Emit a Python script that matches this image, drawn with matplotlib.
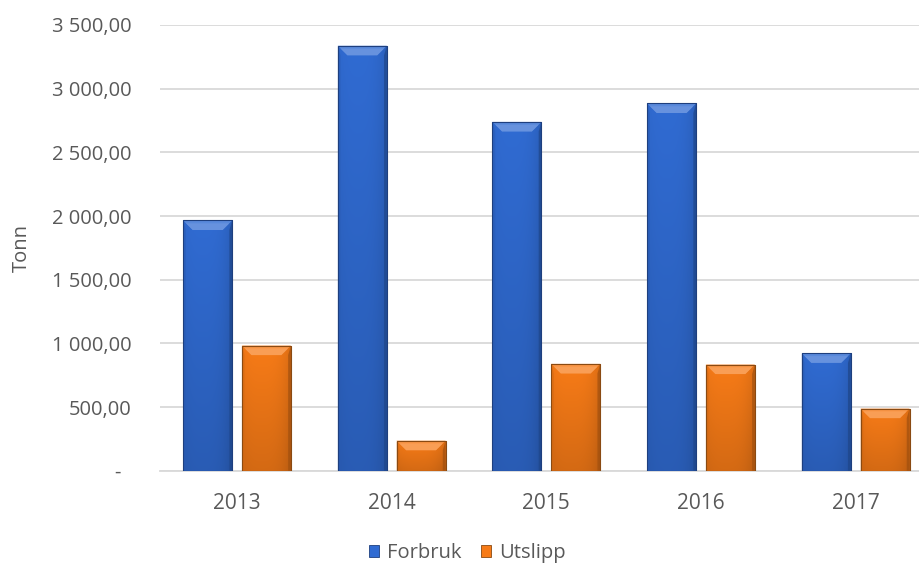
import matplotlib
matplotlib.use("Agg")
import matplotlib.pyplot as plt
import numpy as np
from matplotlib.patches import Polygon
from matplotlib.colors import to_rgb
from matplotlib.ticker import FuncFormatter, MultipleLocator

years = ["2013", "2014", "2015", "2016", "2017"]
forbruk = [1965, 3337, 2739, 2884, 922]
utslipp = [983, 236, 839, 834, 488]
series_names = ["Forbruk", "Utslipp"]
y_label = "Tonn"

plt.rcParams['font.family'] = ['Open Sans', 'DejaVu Sans']
TXT = "#595959"

fig = plt.figure(figsize=(9.2, 5.64), dpi=100)
ax = fig.add_axes([0.1736, 0.1654, 0.8405, 0.7903])

x = np.arange(len(years))
w = 0.317
off = 0.19
blue = "#306BD2"
orange = "#F77B17"
b1 = ax.bar(x - off, forbruk, w, color=blue, edgecolor="#1E3F7E", linewidth=0.6, zorder=3, label=series_names[0])
b2 = ax.bar(x + off, utslipp, w, color=orange, edgecolor="#8A4A12", linewidth=0.6, zorder=3, label=series_names[1])

ax.set_ylim(0, 3500)
ax.set_xlim(-0.5, len(years) - 0.5)


def shade(c, f):
    c = np.array(to_rgb(c))
    if f >= 0:
        return c + (1 - c) * f
    return c * (1 + f)


def decorate(bars, base):
    for p in bars:
        x0, y0 = p.get_x(), p.get_y()
        bw, bh = p.get_width(), p.get_height()
        nx, ny = 60, 80
        hx = np.linspace(0, 1, nx)
        hv = np.linspace(0, 1, ny)[:, None]  # 0 bottom .. 1 top
        horiz = -0.12 * (np.abs(hx - 0.4) / 0.6) ** 3
        vert = -0.14 * (1 - hv)
        f = horiz[None, :] + vert
        c = np.array(to_rgb(base))
        img = np.clip(c[None, None, :] * (1 + f[..., None]), 0, 1)
        im = ax.imshow(img, extent=[x0, x0 + bw, y0, y0 + bh], origin="lower",
                       aspect="auto", zorder=3.1, interpolation="bilinear")
        im.set_clip_path(p)
        bx = 0.062
        by = min(75, bh * 0.35)
        sx = 0.018
        top = Polygon([[x0, y0 + bh], [x0 + bw, y0 + bh], [x0 + bw - bx, y0 + bh - by], [x0 + bx, y0 + bh - by]],
                      closed=True, facecolor=shade(base, 0.2), edgecolor="none", zorder=3.2)
        ax.add_patch(top)
        top2 = Polygon([[x0 + bx * 0.3, y0 + bh - by * 0.3], [x0 + bw - bx * 0.3, y0 + bh - by * 0.3],
                        [x0 + bw - bx, y0 + bh - by], [x0 + bx, y0 + bh - by]],
                       closed=True, facecolor=shade(base, 0.3), edgecolor="none", zorder=3.25, alpha=0.7)
        ax.add_patch(top2)
        left = Polygon([[x0, y0 + bh], [x0 + sx, y0 + bh - by], [x0 + sx, y0], [x0, y0]],
                       closed=True, facecolor=shade(base, -0.15), edgecolor="none", zorder=3.2, alpha=0.5)
        ax.add_patch(left)
        right = Polygon([[x0 + bw, y0 + bh], [x0 + bw - sx, y0 + bh - by], [x0 + bw - sx, y0], [x0 + bw, y0]],
                        closed=True, facecolor=shade(base, -0.35), edgecolor="none", zorder=3.2, alpha=0.7)
        ax.add_patch(right)
        ax.add_patch(Polygon(p.get_path().transformed(p.get_patch_transform()).vertices,
                             closed=True, fill=False, edgecolor=p.get_edgecolor(), linewidth=0.8, zorder=3.3))


decorate(b1, blue)
decorate(b2, orange)
ax.set_xlim(-0.5, len(years) - 0.5)
ax.set_ylim(0, 3500)


def fmt(v, pos):
    if abs(v) < 1e-9:
        return "-  "
    s = f"{v:,.2f}"
    return s.replace(",", " ").replace(".", ",")


ax.yaxis.set_major_locator(MultipleLocator(500))
ax.yaxis.set_major_formatter(FuncFormatter(fmt))
ax.set_xticks(x)
ax.set_xticklabels(years)
ax.tick_params(axis="both", length=0, labelsize=14.5, colors=TXT)
ax.tick_params(axis="x", labelsize=15, pad=16)
ax.tick_params(axis="y", pad=20)
ax.grid(axis="y", color="#D9D9D9", linewidth=1.3, zorder=0)
for s in ["top", "right", "left"]:
    ax.spines[s].set_visible(False)
ax.spines["bottom"].set_color("#D9D9D9")
ax.spines["bottom"].set_linewidth(1.3)
ax.set_ylabel(y_label, fontsize=14.5, color=TXT, labelpad=15)

leg = fig.legend(handles=[b1, b2], labels=series_names, loc="center", bbox_to_anchor=(0.508, 0.0195),
                 ncol=2, frameon=False, fontsize=14.5, labelcolor=TXT, handlelength=0.5, handleheight=0.5,
                 handletextpad=0.4, columnspacing=1.0)

fig.savefig("out.png", dpi=100)
